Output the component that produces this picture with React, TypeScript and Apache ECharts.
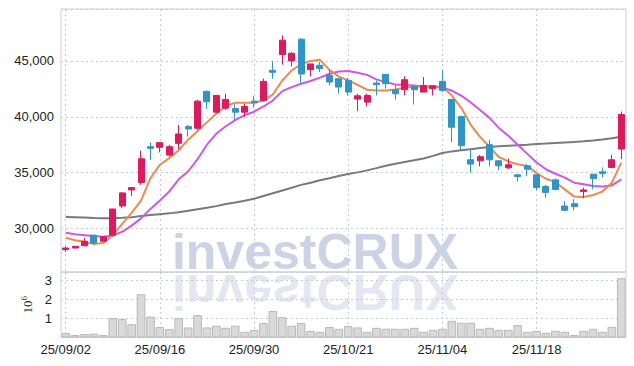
import React, { useEffect, useRef } from "react";
import * as echarts from "echarts";

const categories = [
  "25/09/02","25/09/03","25/09/04","25/09/05","25/09/08","25/09/09","25/09/10","25/09/11","25/09/12","25/09/15",
  "25/09/16","25/09/17","25/09/18","25/09/19","25/09/22","25/09/23","25/09/24","25/09/25","25/09/26","25/09/29",
  "25/09/30","25/10/01","25/10/02","25/10/10","25/10/13","25/10/14","25/10/15","25/10/16","25/10/17","25/10/20",
  "25/10/21","25/10/22","25/10/23","25/10/24","25/10/27","25/10/28","25/10/29","25/10/30","25/10/31","25/11/03",
  "25/11/04","25/11/05","25/11/06","25/11/07","25/11/10","25/11/11","25/11/12","25/11/13","25/11/14","25/11/17",
  "25/11/18","25/11/19","25/11/20","25/11/21","25/11/24","25/11/25","25/11/26","25/11/27","25/11/28","25/12/01",
];

const opens = [
  28100, 28250, 28450, 29400, 28850, 29400, 32010, 33450, 34110, 37320,
  37260, 36570, 37620, 39120, 38970, 42270, 40410, 40770, 40740, 40410,
  41400, 41460, 44160, 45570, 45000, 46950, 44220, 44610, 43710, 43410,
  43260, 41580, 41310, 43020, 43800, 42420, 42420, 42720, 42210, 42510,
  43170, 41550, 40020, 36150, 36060, 37500, 36060, 35430, 34800, 35610,
  34800, 33750, 34350, 32010, 32220, 33300, 34860, 35070, 35460, 37110,
];
const closes = [
  28250, 28400, 28850, 28700, 29250, 31740, 33180, 33660, 36240, 37170,
  37680, 37320, 38460, 38910, 41400, 41340, 41910, 41550, 40410, 40920,
  41250, 43170, 43980, 46860, 45690, 43830, 44730, 44310, 43110, 42660,
  42210, 41880, 41910, 42870, 42960, 42060, 43320, 42420, 42810, 42780,
  42360, 39060, 37410, 35760, 36420, 36150, 35610, 35700, 34650, 35310,
  33660, 33210, 33480, 31620, 31950, 33450, 34470, 34920, 36150, 40200,
];
const lows = [
  27900, 28200, 28400, 28550, 28800, 29300, 31800, 32910, 33900, 36120,
  36810, 36450, 37110, 38220, 38820, 40710, 40320, 40620, 39720, 39960,
  40800, 41370, 43410, 44670, 44520, 43020, 43620, 44010, 42810, 42060,
  41910, 40500, 40920, 41910, 42510, 41550, 41910, 41100, 42210, 41910,
  42200, 37710, 37020, 35010, 35550, 35550, 35220, 35310, 34200, 34710,
  33420, 32760, 33420, 31560, 31620, 32700, 33510, 34560, 35400, 36210,
];
const highs = [
  28400, 28450, 29150, 29400, 29300, 31750, 33270, 33660, 36960, 37710,
  37700, 37500, 39270, 39270, 41520, 42360, 41970, 42060, 41100, 41160,
  41850, 43410, 45000, 47280, 45780, 47040, 44730, 44910, 44220, 43410,
  43470, 42060, 42060, 43260, 43800, 42810, 43620, 42810, 43560, 42780,
  44160, 41550, 40020, 37020, 36570, 37920, 36060, 36270, 34800, 35760,
  34800, 33900, 34470, 32460, 32610, 33660, 34860, 35460, 36600, 40470,
];

const ma5 = [
  29160, 28950, 28800, 28600, 28700, 29400, 30400, 31400, 32500, 34500,
  35700, 36300, 37000, 37950, 38700, 39500, 40300, 40950, 41250, 41250,
  41250, 41450, 42000, 43250, 44150, 44700, 45000, 45100, 44200, 43600,
  43250, 42850, 42420, 42360, 42360, 42450, 42600, 42700, 42720, 42720,
  42700, 41900, 40800, 39300, 38200, 37300, 36400, 36000, 35750, 35600,
  34950, 34450, 34150, 33500, 32850, 32820, 33000, 33300, 34100, 35900,
];
const ma20 = [
  29610, 29480, 29400, 29320, 29260, 29380, 29700, 30250, 30900, 31750,
  32500, 33300, 34400, 35100, 36200, 37500, 38500, 39150, 39700, 40150,
  40450, 40920, 41450, 42300, 42650, 42960, 43200, 43500, 43850, 44050,
  44100, 43950, 43750, 43350, 43100, 42900, 42850, 42800, 42720, 42680,
  42600, 42350, 41900, 41300, 40600, 39900, 39000, 38300, 37500, 36700,
  35900, 35300, 34900, 34550, 34100, 33950, 33800, 33750, 33850, 34400,
];
const ma60 = [
  31020, 31000, 30970, 30940, 30920, 30920, 30950, 31000, 31120, 31200,
  31280, 31350, 31450, 31580, 31720, 31850, 32000, 32180, 32320, 32480,
  32650, 32900, 33150, 33400, 33650, 33900, 34100, 34320, 34500, 34700,
  34870, 35020, 35200, 35400, 35620, 35800, 35950, 36100, 36270, 36500,
  36750, 36900, 37000, 37100, 37200, 37300, 37350, 37400, 37450, 37500,
  37560, 37600, 37650, 37700, 37750, 37800, 37880, 37970, 38080, 38220,
];

const volumesM = [
  0.23, 0.13, 0.18, 0.2, 0.13, 1.02, 0.97, 0.7, 2.28, 1.1,
  0.55, 0.44, 1.02, 0.53, 1.18, 0.53, 0.62, 0.51, 0.62, 0.3,
  0.4, 0.76, 1.4, 1.07, 0.62, 0.76, 0.35, 0.3, 0.55, 0.46,
  0.6, 0.53, 0.3, 0.51, 0.46, 0.46, 0.46, 0.51, 0.3, 0.4,
  0.46, 0.88, 0.78, 0.78, 0.46, 0.51, 0.4, 0.4, 0.65, 0.3,
  0.35, 0.25, 0.35, 0.3, 0.13, 0.35, 0.46, 0.3, 0.56, 3.12,
];

const priceTicks = [30000, 35000, 40000, 45000];
const volumeTicks = [1, 2, 3];

const UP = "#e2185e";
const DOWN = "#2e95c8";
const GRID_LINE = "#c5cade";
const LABEL_FONT = "'Liberation Sans', Arial, sans-serif";

export default function App() {
  const ref = useRef<HTMLDivElement>(null);

  useEffect(() => {
    document.body.style.margin = "0";
    if (!ref.current) return;
    const chart = echarts.init(ref.current, undefined, { renderer: "svg" });

    const candleData = categories.map((_, i) => [opens[i], closes[i], lows[i], highs[i]]);

    const splitV = {
      show: true,
      interval: 9,
      alignWithLabel: true,
      lineStyle: { color: GRID_LINE, type: [2, 3], width: 1 },
    };

    const option: any = {
      animation: false,
      backgroundColor: "#fff",
      graphic: [
        {
          type: "text",
          x: 315,
          y: 277,
          z: -10,
          silent: true,
          style: {
            text: "investCRUX",
            fontSize: 50,
            fontWeight: "bold",
            fontFamily: LABEL_FONT,
            fill: "#cdd3e7",
            textAlign: "center",
            textVerticalAlign: "bottom",
          },
        },
        {
          type: "text",
          x: 315,
          y: 267,
          scaleY: -1,
          z: -10,
          silent: true,
          style: {
            text: "investCRUX",
            fontSize: 50,
            fontWeight: "bold",
            fontFamily: LABEL_FONT,
            fill: "#e4e7f1",
            textAlign: "center",
            textVerticalAlign: "bottom",
          },
        },
      ],
      grid: [
        { left: 61, right: 8, top: 9, height: 263, show: true, borderColor: "#cfcfcf", borderWidth: 1, backgroundColor: "transparent" },
        { left: 61, right: 8, top: 272, height: 65.5, show: true, borderColor: "#cfcfcf", borderWidth: 1, backgroundColor: "transparent" },
      ],
      xAxis: [
        {
          type: "category",
          gridIndex: 0,
          data: categories,
          boundaryGap: true,
          axisLine: { show: false },
          axisTick: { show: false },
          axisLabel: { show: false, interval: 9 },
          splitLine: splitV,
        },
        {
          type: "category",
          gridIndex: 1,
          data: categories,
          boundaryGap: true,
          axisLine: { show: false },
          axisTick: { show: false },
          axisLabel: {
            show: true,
            interval: 9,
            margin: 5,
            color: "#222",
            fontSize: 13,
            fontFamily: LABEL_FONT,
          },
          splitLine: splitV,
        },
      ],
      yAxis: [
        {
          type: "value",
          gridIndex: 0,
          min: 26100,
          max: 49650,
          splitNumber: 5,
          axisLine: { show: false },
          axisTick: { show: false },
          axisLabel: {
            margin: 7,
            color: "#222",
            fontSize: 13,
            fontFamily: LABEL_FONT,
            formatter: (v: number) =>
              priceTicks.includes(Math.round(v)) ? Math.round(v).toLocaleString("en-US") : "",
          },
          splitLine: { show: true, lineStyle: { color: GRID_LINE, type: [2, 3], width: 1 } },
        },
        {
          type: "value",
          gridIndex: 1,
          min: 0,
          max: 3.45,
          interval: 1,
          axisLine: { show: false },
          axisTick: { show: false },
          name: "{a|10}{b|6}",
          nameLocation: "middle",
          nameRotate: 90,
          nameGap: 21,
          nameTextStyle: {
            rich: {
              a: { fontSize: 13, fontFamily: "'Liberation Serif', serif", color: "#222" },
              b: { fontSize: 9, fontFamily: "'Liberation Serif', serif", color: "#222", verticalAlign: "top", padding: [0, 0, 6, 0] },
            },
          },
          axisLabel: {
            margin: 9,
            color: "#222",
            fontSize: 13,
            fontFamily: LABEL_FONT,
            formatter: (v: number) => (volumeTicks.includes(Math.round(v * 1000) / 1000) ? String(v) : ""),
          },
          splitLine: { show: true, lineStyle: { color: GRID_LINE, type: [2, 3], width: 1 } },
        },
      ],
      series: [
        {
          type: "bar",
          xAxisIndex: 1,
          yAxisIndex: 1,
          data: volumesM,
          barWidth: "92%",
          itemStyle: { color: "#d9d9d9", borderColor: "#b9b9b9", borderWidth: 1 },
          z: 3,
        },
        {
          type: "line",
          xAxisIndex: 0,
          yAxisIndex: 0,
          data: ma60,
          symbol: "none",
          lineStyle: { color: "#7a7a7a", width: 2 },
          z: 3,
        },
        {
          type: "line",
          xAxisIndex: 0,
          yAxisIndex: 0,
          data: ma20,
          symbol: "none",
          lineStyle: { color: "#cc57ec", width: 2 },
          z: 3,
        },
        {
          type: "line",
          xAxisIndex: 0,
          yAxisIndex: 0,
          data: ma5,
          symbol: "none",
          lineStyle: { color: "#f08a4c", width: 2 },
          z: 3,
        },
        {
          type: "candlestick",
          xAxisIndex: 0,
          yAxisIndex: 0,
          data: candleData,
          barWidth: 6.5,
          itemStyle: {
            color: UP,
            color0: DOWN,
            borderColor: UP,
            borderColor0: DOWN,
            borderWidth: 1,
          },
          z: 4,
        },
      ],
    };

    chart.setOption(option);
    return () => chart.dispose();
  }, []);

  return <div ref={ref} style={{ width: 634, height: 366 }} />;
}
